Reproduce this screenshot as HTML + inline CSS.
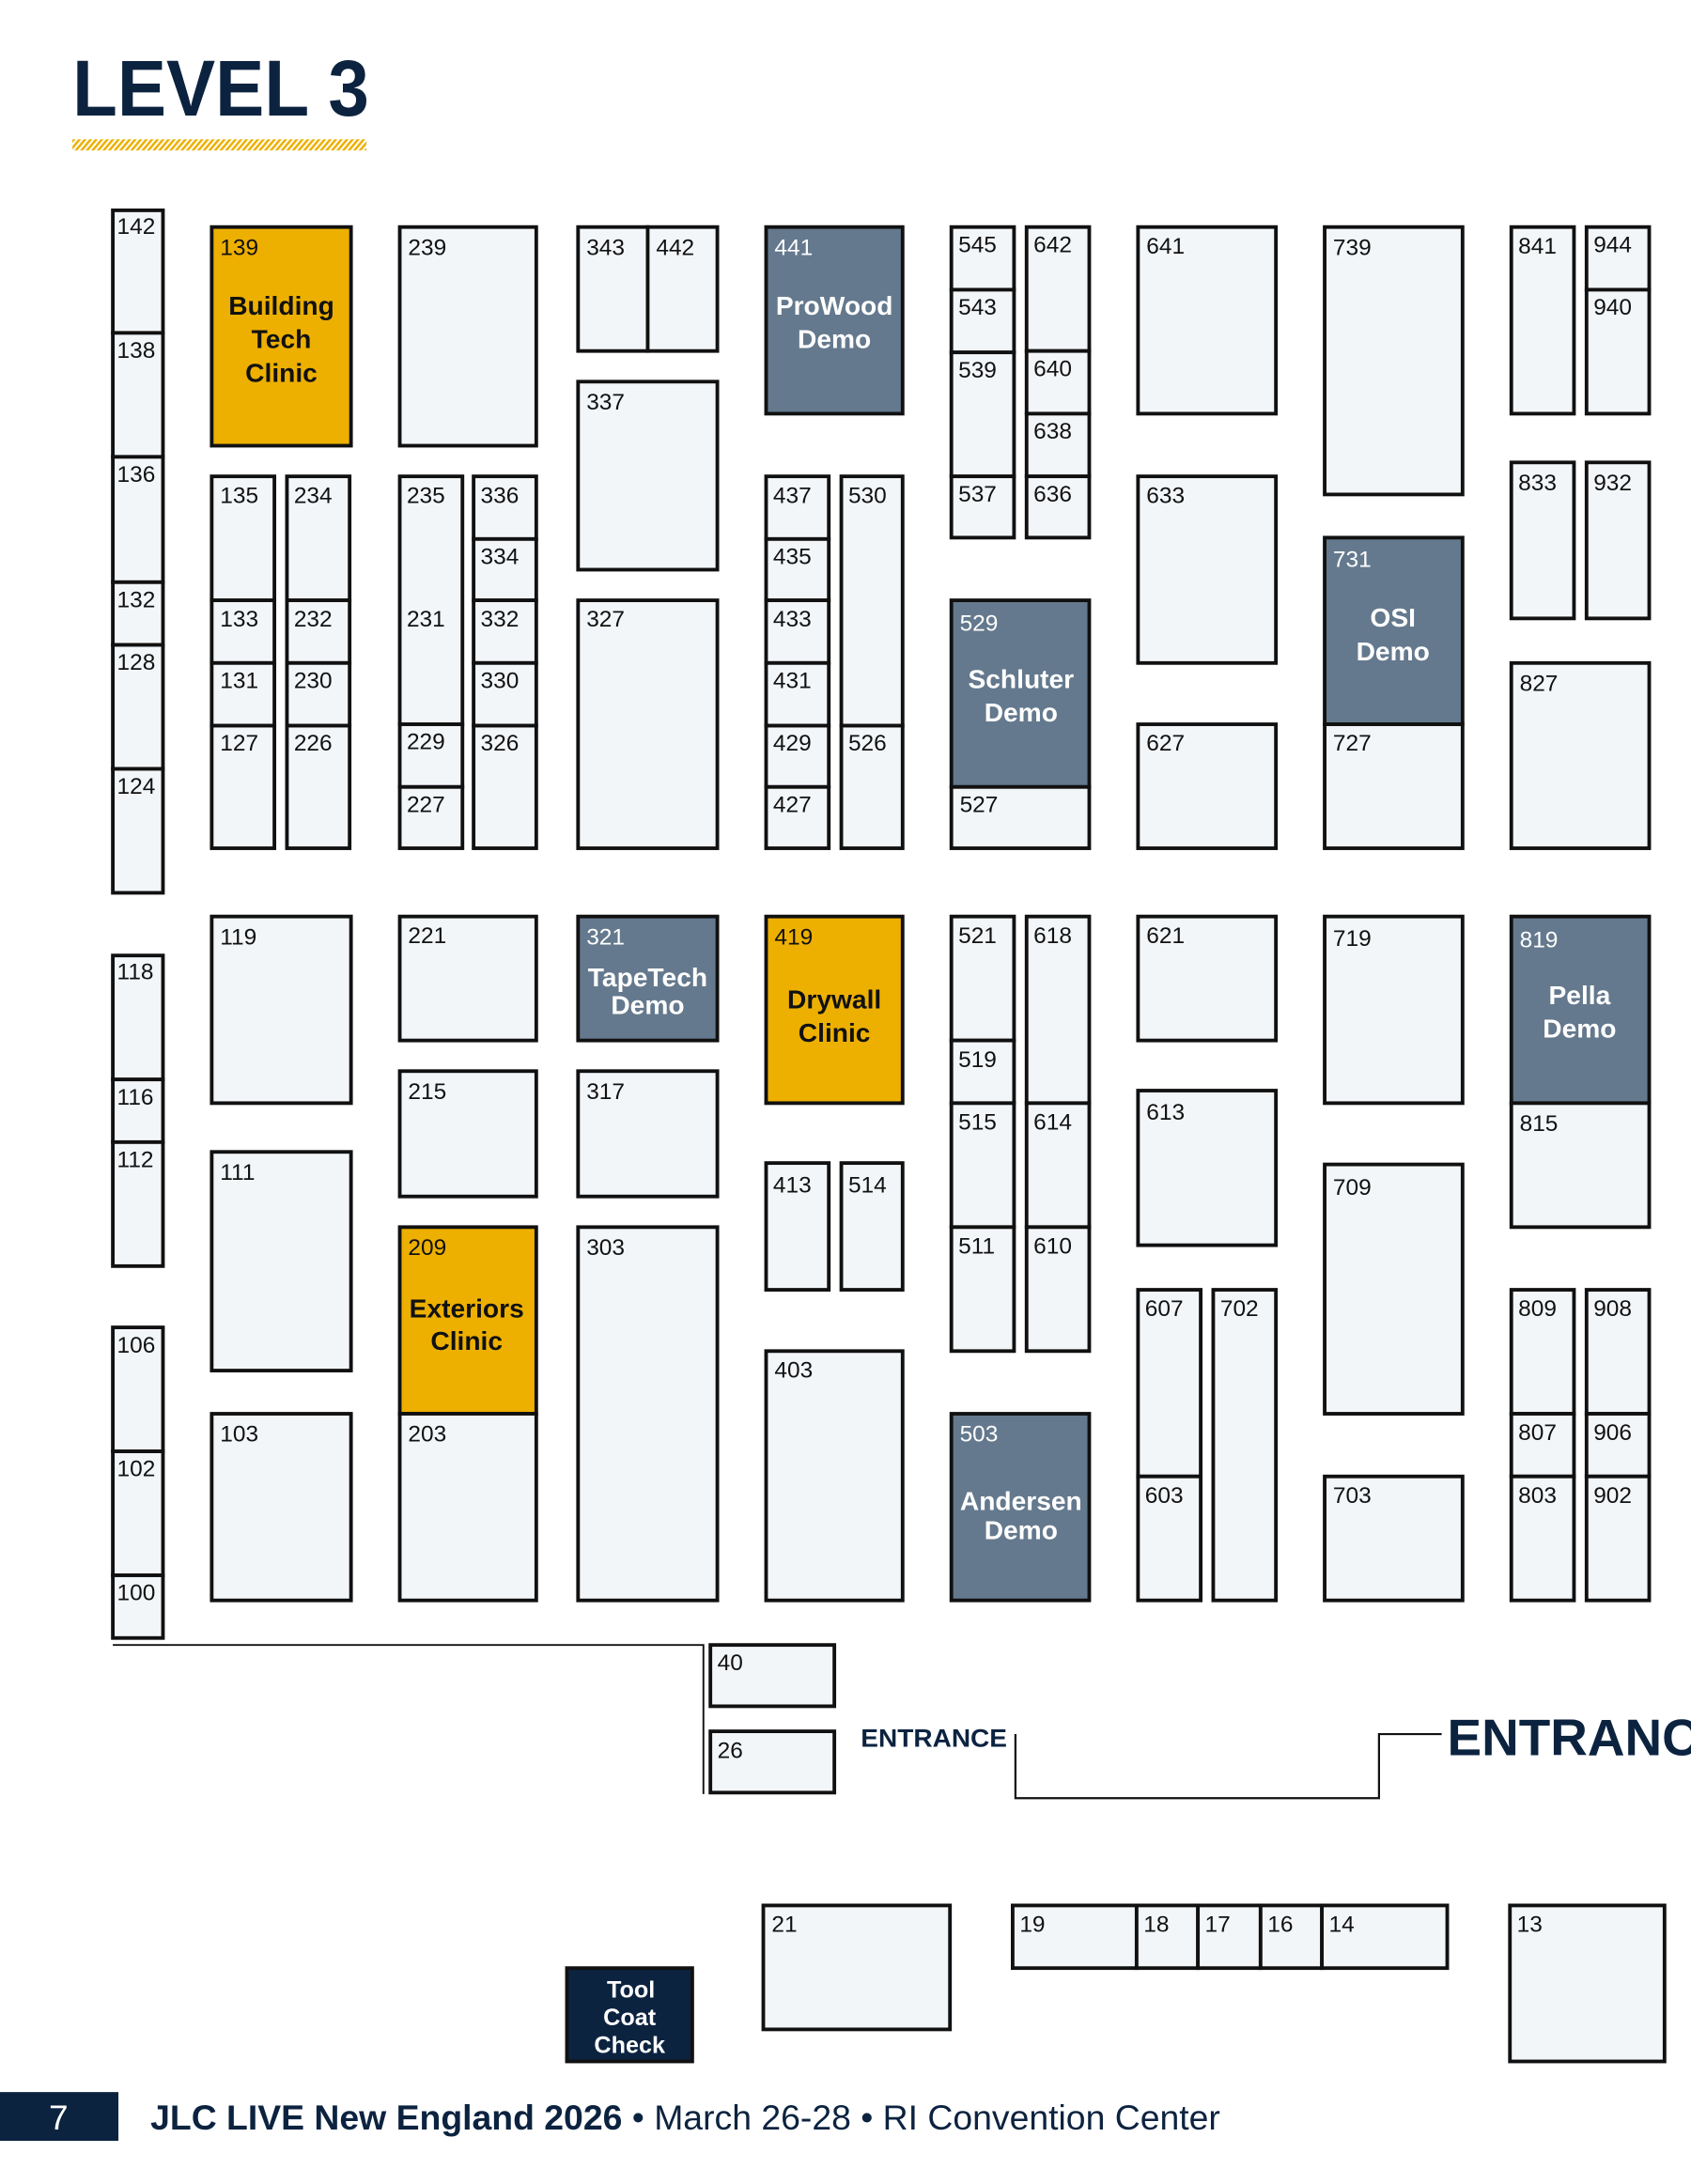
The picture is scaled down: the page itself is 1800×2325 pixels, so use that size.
<!DOCTYPE html>
<html><head><meta charset="utf-8"><style>
html,body{margin:0;padding:0;background:#fff;}
svg{display:block;}
.b{fill:#f3f6f9;stroke:#111;stroke-width:2.6;}
.g{fill:#edb000;stroke:#111;stroke-width:2.6;}
.s{fill:#64798d;stroke:#111;stroke-width:2.6;}
text{font-family:"Liberation Sans",sans-serif;}
.n{font-size:16.5px;fill:#111;}
.nw{font-size:16.5px;fill:#fff;}
.tb{font-size:19px;font-weight:bold;fill:#111;text-anchor:middle;}
.tw{font-size:19px;font-weight:bold;fill:#fff;text-anchor:middle;}
</style></head><body>
<svg width="1800" height="2325" viewBox="0 0 1214 1568" preserveAspectRatio="none" xmlns="http://www.w3.org/2000/svg">
<defs><pattern id="h" width="4" height="8" patternUnits="userSpaceOnUse" patternTransform="skewX(-40)"><rect x="0" y="0" width="2.2" height="8" fill="#edb000"/></pattern></defs>
<text x="52" y="83" textLength="213" lengthAdjust="spacingAndGlyphs" style="font-size:57px;font-weight:bold;fill:#0c2340;">LEVEL 3</text>
<rect x="52" y="100" width="211" height="8" fill="url(#h)"/>

<!-- column 1 -->
<rect class="b" x="81" y="151" width="36" height="88"/><text class="n" x="84" y="168">142</text>
<rect class="b" x="81" y="239" width="36" height="89"/><text class="n" x="84" y="257">138</text>
<rect class="b" x="81" y="328" width="36" height="90"/><text class="n" x="84" y="346">136</text>
<rect class="b" x="81" y="418" width="36" height="45"/><text class="n" x="84" y="436">132</text>
<rect class="b" x="81" y="463" width="36" height="89"/><text class="n" x="84" y="481">128</text>
<rect class="b" x="81" y="552" width="36" height="89"/><text class="n" x="84" y="570">124</text>
<rect class="b" x="81" y="686" width="36" height="89"/><text class="n" x="84" y="703">118</text>
<rect class="b" x="81" y="775" width="36" height="45"/><text class="n" x="84" y="793">116</text>
<rect class="b" x="81" y="820" width="36" height="89"/><text class="n" x="84" y="838">112</text>
<rect class="b" x="81" y="953" width="36" height="89"/><text class="n" x="84" y="971">106</text>
<rect class="b" x="81" y="1042" width="36" height="89"/><text class="n" x="84" y="1060">102</text>
<rect class="b" x="81" y="1131" width="36" height="45"/><text class="n" x="84" y="1149">100</text>

<!-- upper block -->
<rect class="g" x="152" y="163" width="100" height="157"/><text class="n" x="158" y="183">139</text>
<text class="tb" x="202" y="226">Building</text><text class="tb" x="202" y="250">Tech</text><text class="tb" x="202" y="274">Clinic</text>
<rect class="b" x="287" y="163" width="98" height="157"/><text class="n" x="293" y="183">239</text>
<rect class="b" x="415" y="163" width="50" height="89"/><text class="n" x="421" y="183">343</text>
<rect class="b" x="465" y="163" width="50" height="89"/><text class="n" x="471" y="183">442</text>
<rect class="b" x="415" y="274" width="100" height="135"/><text class="n" x="421" y="294">337</text>
<rect class="s" x="550" y="163" width="98" height="134"/><text class="nw" x="556" y="183">441</text>
<text class="tw" x="599" y="226">ProWood</text><text class="tw" x="599" y="250">Demo</text>
<rect class="b" x="683" y="163" width="45" height="45"/><text class="n" x="688" y="181">545</text>
<rect class="b" x="683" y="208" width="45" height="45"/><text class="n" x="688" y="226">543</text>
<rect class="b" x="683" y="253" width="45" height="89"/><text class="n" x="688" y="271">539</text>
<rect class="b" x="683" y="342" width="45" height="44"/><text class="n" x="688" y="360">537</text>
<rect class="b" x="737" y="163" width="45" height="89"/><text class="n" x="742" y="181">642</text>
<rect class="b" x="737" y="252" width="45" height="45"/><text class="n" x="742" y="270">640</text>
<rect class="b" x="737" y="297" width="45" height="45"/><text class="n" x="742" y="315">638</text>
<rect class="b" x="737" y="342" width="45" height="44"/><text class="n" x="742" y="360">636</text>
<rect class="b" x="817" y="163" width="99" height="134"/><text class="n" x="823" y="182">641</text>
<rect class="b" x="951" y="163" width="99" height="192"/><text class="n" x="957" y="183">739</text>
<rect class="b" x="1085" y="163" width="45" height="134"/><text class="n" x="1090" y="182">841</text>
<rect class="b" x="1139" y="163" width="45" height="45"/><text class="n" x="1144" y="181">944</text>
<rect class="b" x="1139" y="208" width="45" height="89"/><text class="n" x="1144" y="226">940</text>
<rect class="b" x="1085" y="332" width="45" height="112"/><text class="n" x="1090" y="352">833</text>
<rect class="b" x="1139" y="332" width="45" height="112"/><text class="n" x="1144" y="352">932</text>

<rect class="b" x="152" y="342" width="45" height="89"/><text class="n" x="158" y="361">135</text>
<rect class="b" x="152" y="431" width="45" height="45"/><text class="n" x="158" y="450">133</text>
<rect class="b" x="152" y="476" width="45" height="45"/><text class="n" x="158" y="494">131</text>
<rect class="b" x="152" y="521" width="45" height="88"/><text class="n" x="158" y="539">127</text>
<rect class="b" x="206" y="342" width="45" height="89"/><text class="n" x="211" y="361">234</text>
<rect class="b" x="206" y="431" width="45" height="45"/><text class="n" x="211" y="450">232</text>
<rect class="b" x="206" y="476" width="45" height="45"/><text class="n" x="211" y="494">230</text>
<rect class="b" x="206" y="521" width="45" height="88"/><text class="n" x="211" y="539">226</text>
<rect class="b" x="287" y="342" width="45" height="178"/><text class="n" x="292" y="361">235</text><text class="n" x="292" y="450">231</text>
<rect class="b" x="287" y="520" width="45" height="45"/><text class="n" x="292" y="538">229</text>
<rect class="b" x="287" y="565" width="45" height="44"/><text class="n" x="292" y="583">227</text>
<rect class="b" x="340" y="342" width="45" height="45"/><text class="n" x="345" y="361">336</text>
<rect class="b" x="340" y="387" width="45" height="44"/><text class="n" x="345" y="405">334</text>
<rect class="b" x="340" y="431" width="45" height="45"/><text class="n" x="345" y="450">332</text>
<rect class="b" x="340" y="476" width="45" height="45"/><text class="n" x="345" y="494">330</text>
<rect class="b" x="340" y="521" width="45" height="88"/><text class="n" x="345" y="539">326</text>
<rect class="b" x="415" y="431" width="100" height="178"/><text class="n" x="421" y="450">327</text>
<rect class="b" x="550" y="342" width="45" height="45"/><text class="n" x="555" y="361">437</text>
<rect class="b" x="550" y="387" width="45" height="44"/><text class="n" x="555" y="405">435</text>
<rect class="b" x="550" y="431" width="45" height="45"/><text class="n" x="555" y="450">433</text>
<rect class="b" x="550" y="476" width="45" height="45"/><text class="n" x="555" y="494">431</text>
<rect class="b" x="550" y="521" width="45" height="44"/><text class="n" x="555" y="539">429</text>
<rect class="b" x="550" y="565" width="45" height="44"/><text class="n" x="555" y="583">427</text>
<rect class="b" x="604" y="342" width="44" height="179"/><text class="n" x="609" y="361">530</text>
<rect class="b" x="604" y="521" width="44" height="88"/><text class="n" x="609" y="539">526</text>
<rect class="s" x="683" y="431" width="99" height="134"/><text class="nw" x="689" y="453">529</text>
<text class="tw" x="733" y="494">Schluter</text><text class="tw" x="733" y="518">Demo</text>
<rect class="b" x="683" y="565" width="99" height="44"/><text class="n" x="689" y="583">527</text>
<rect class="b" x="817" y="342" width="99" height="134"/><text class="n" x="823" y="361">633</text>
<rect class="b" x="817" y="520" width="99" height="89"/><text class="n" x="823" y="539">627</text>
<rect class="s" x="951" y="386" width="99" height="134"/><text class="nw" x="957" y="407">731</text>
<text class="tw" x="1000" y="450">OSI</text><text class="tw" x="1000" y="474">Demo</text>
<rect class="b" x="951" y="520" width="99" height="89"/><text class="n" x="957" y="539">727</text>
<rect class="b" x="1085" y="476" width="99" height="133"/><text class="n" x="1091" y="496">827</text>

<!-- lower block -->
<rect class="b" x="152" y="658" width="100" height="134"/><text class="n" x="158" y="678">119</text>
<rect class="b" x="152" y="827" width="100" height="157"/><text class="n" x="158" y="847">111</text>
<rect class="b" x="152" y="1015" width="100" height="134"/><text class="n" x="158" y="1035">103</text>
<rect class="b" x="287" y="658" width="98" height="89"/><text class="n" x="293" y="677">221</text>
<rect class="b" x="287" y="769" width="98" height="90"/><text class="n" x="293" y="789">215</text>
<rect class="g" x="287" y="881" width="98" height="134"/><text class="n" x="293" y="901">209</text>
<text class="tb" x="335" y="946">Exteriors</text><text class="tb" x="335" y="969">Clinic</text>
<rect class="b" x="287" y="1015" width="98" height="134"/><text class="n" x="293" y="1035">203</text>
<rect class="s" x="415" y="658" width="100" height="89"/><text class="nw" x="421" y="678">321</text>
<text class="tw" x="465" y="708">TapeTech</text><text class="tw" x="465" y="728">Demo</text>
<rect class="b" x="415" y="769" width="100" height="90"/><text class="n" x="421" y="789">317</text>
<rect class="b" x="415" y="881" width="100" height="268"/><text class="n" x="421" y="901">303</text>
<rect class="g" x="550" y="658" width="98" height="134"/><text class="n" x="556" y="678">419</text>
<text class="tb" x="599" y="724">Drywall</text><text class="tb" x="599" y="748">Clinic</text>
<rect class="b" x="550" y="835" width="45" height="91"/><text class="n" x="555" y="856">413</text>
<rect class="b" x="604" y="835" width="44" height="91"/><text class="n" x="609" y="856">514</text>
<rect class="b" x="550" y="970" width="98" height="179"/><text class="n" x="556" y="989">403</text>
<rect class="b" x="683" y="658" width="45" height="89"/><text class="n" x="688" y="677">521</text>
<rect class="b" x="683" y="747" width="45" height="45"/><text class="n" x="688" y="766">519</text>
<rect class="b" x="683" y="792" width="45" height="89"/><text class="n" x="688" y="811">515</text>
<rect class="b" x="683" y="881" width="45" height="89"/><text class="n" x="688" y="900">511</text>
<rect class="b" x="737" y="658" width="45" height="134"/><text class="n" x="742" y="677">618</text>
<rect class="b" x="737" y="792" width="45" height="89"/><text class="n" x="742" y="811">614</text>
<rect class="b" x="737" y="881" width="45" height="89"/><text class="n" x="742" y="900">610</text>
<rect class="s" x="683" y="1015" width="99" height="134"/><text class="nw" x="689" y="1035">503</text>
<text class="tw" x="733" y="1084">Andersen</text><text class="tw" x="733" y="1105">Demo</text>
<rect class="b" x="817" y="658" width="99" height="89"/><text class="n" x="823" y="677">621</text>
<rect class="b" x="817" y="783" width="99" height="111"/><text class="n" x="823" y="804">613</text>
<rect class="b" x="817" y="926" width="45" height="134"/><text class="n" x="822" y="945">607</text>
<rect class="b" x="817" y="1060" width="45" height="89"/><text class="n" x="822" y="1079">603</text>
<rect class="b" x="871" y="926" width="45" height="223"/><text class="n" x="876" y="945">702</text>
<rect class="b" x="951" y="658" width="99" height="134"/><text class="n" x="957" y="679">719</text>
<rect class="b" x="951" y="836" width="99" height="179"/><text class="n" x="957" y="858">709</text>
<rect class="b" x="951" y="1060" width="99" height="89"/><text class="n" x="957" y="1079">703</text>
<rect class="s" x="1085" y="658" width="99" height="134"/><text class="nw" x="1091" y="680">819</text>
<text class="tw" x="1134" y="721">Pella</text><text class="tw" x="1134" y="745">Demo</text>
<rect class="b" x="1085" y="792" width="99" height="89"/><text class="n" x="1091" y="812">815</text>
<rect class="b" x="1085" y="926" width="45" height="89"/><text class="n" x="1090" y="945">809</text>
<rect class="b" x="1085" y="1015" width="45" height="45"/><text class="n" x="1090" y="1034">807</text>
<rect class="b" x="1085" y="1060" width="45" height="89"/><text class="n" x="1090" y="1079">803</text>
<rect class="b" x="1139" y="926" width="45" height="89"/><text class="n" x="1144" y="945">908</text>
<rect class="b" x="1139" y="1015" width="45" height="45"/><text class="n" x="1144" y="1034">906</text>
<rect class="b" x="1139" y="1060" width="45" height="89"/><text class="n" x="1144" y="1079">902</text>

<!-- entrance area -->
<polyline points="81,1181 505,1181 505,1288" fill="none" stroke="#111" stroke-width="1.3"/>
<rect class="b" x="510" y="1181" width="89" height="44"/><text class="n" x="515" y="1199">40</text>
<rect class="b" x="510" y="1243" width="89" height="44"/><text class="n" x="515" y="1262">26</text>
<text x="618" y="1254" textLength="105" lengthAdjust="spacingAndGlyphs" style="font-size:18px;font-weight:bold;fill:#0c2340;">ENTRANCE</text>
<polyline points="729,1245 729,1291 990,1291 990,1245 1035,1245" fill="none" stroke="#111" stroke-width="1.5"/>
<text x="1039" y="1260" style="font-size:37px;font-weight:bold;fill:#0c2340;">ENTRANC</text>

<rect class="b" x="548" y="1368" width="134" height="89"/><text class="n" x="554" y="1387">21</text>
<rect class="b" x="727" y="1368" width="89" height="45"/><text class="n" x="732" y="1387">19</text>
<rect class="b" x="816" y="1368" width="44" height="45"/><text class="n" x="821" y="1387">18</text>
<rect class="b" x="860" y="1368" width="45" height="45"/><text class="n" x="865" y="1387">17</text>
<rect class="b" x="905" y="1368" width="44" height="45"/><text class="n" x="910" y="1387">16</text>
<rect class="b" x="949" y="1368" width="90" height="45"/><text class="n" x="954" y="1387">14</text>
<rect class="b" x="1084" y="1368" width="111" height="112"/><text class="n" x="1089" y="1387">13</text>
<rect x="407" y="1413" width="90" height="67" fill="#0c2340" stroke="#111" stroke-width="2.6"/>
<text class="tw" x="453" y="1434" style="font-size:17px">Tool</text>
<text class="tw" x="452" y="1454" style="font-size:17px">Coat</text>
<text class="tw" x="452" y="1474" style="font-size:17px">Check</text>

<!-- footer -->
<rect x="0" y="1502" width="85" height="35" fill="#0c2340"/>
<text x="42" y="1529" style="font-size:25px;fill:#fff;text-anchor:middle;">7</text>
<text x="108" y="1529" textLength="768" lengthAdjust="spacingAndGlyphs" style="font-size:25px;fill:#0c2340;"><tspan font-weight="bold">JLC LIVE New England 2026</tspan> • March 26-28 • RI Convention Center</text>
</svg>
</body></html>
